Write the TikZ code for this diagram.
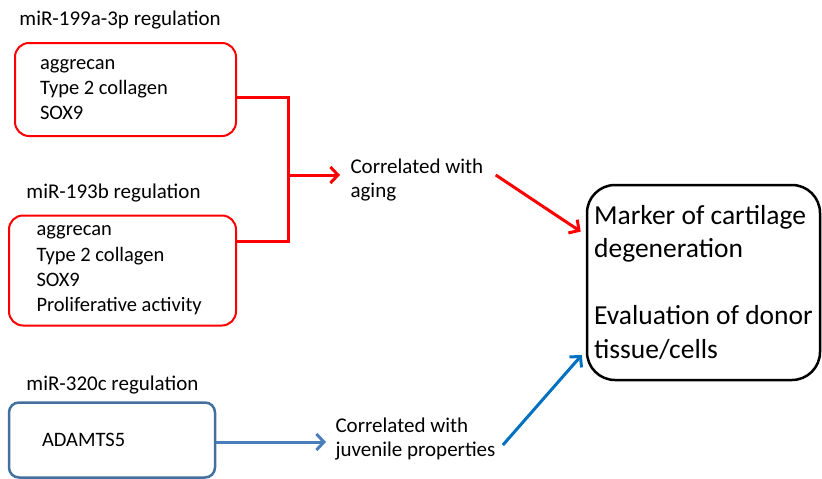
\documentclass[tikz,border=0pt]{standalone}
\usepackage{fontspec}
\setmainfont{Carlito}
\usetikzlibrary{arrows.meta}
\definecolor{boxblue}{HTML}{41719C}
\definecolor{lineblue}{HTML}{4A7EBB}
\definecolor{arrowblue}{HTML}{0070C0}

\begin{document}
\begin{tikzpicture}[x = 1pt, y = -1pt, line width = 3pt,
                        label/.style = {anchor = west, inner sep = 2pt, align = flush left,
                                        font = \fontsize{21}{24}\selectfont},
                        redbox/.style = {draw = red, line width = 2pt, rounded corners = 14pt,
                                         align = flush left, font = \fontsize{20.5}{25.3}\selectfont},
                        bluebox/.style = {draw = boxblue, line width = 2.5pt, rounded corners = 10pt,
                                          align = flush left, font = \fontsize{20.5}{25.3}\selectfont},
                        bigbox/.style = {draw, line width = 2.5pt, rounded corners = 28pt,
                                         align = left, font = \fontsize{27.5}{33.5}\selectfont},
                        tip/.style = {-{Straight Barb[length = 7.5pt, width = 16pt, line width = 3pt]}}]
      \useasboundingbox (0, 0) rectangle (822, 479);
      \node [label] (t1) at (16, 20){miR-199a-3p regulation};
      \node [label] (t2) at (23, 193){miR-193b regulation};
      \node [label] (t3) at (23, 385){miR-320c regulation};
      \node [redbox, minimum height = 93pt, inner xsep = 25pt, text width = 171pt] (b1) at (125.5, 89.5)
            {aggrecan\\Type 2 collagen\\SOX9};
      \node [redbox, minimum height = 110pt, inner xsep = 27.5pt, text width = 172pt] (b2) at (122.5, 270.5)
            {aggrecan\\Type 2 collagen\\SOX9\\Proliferative activity};
      \node [bluebox, minimum height = 75pt, inner xsep = 33pt, text width = 140pt] (b3) at (112, 440){ADAMTS5};
      \node [label] (c1) at (347, 180){Correlated with\\aging};
      \node [label] (c2) at (332, 439){Correlated with\\juvenile properties};
      \node [bigbox, minimum width = 233pt, minimum height = 195pt] (m) at (703.5, 282.5)
            {Marker of cartilage\\degeneration\\[33.5pt]Evaluation of donor\\tissue/cells};
      \coordinate (j1) at (288, 97);
      \coordinate (j2) at (288, 241);
      \coordinate (jm) at (288, 175);
      \draw [red] (b1.east |- j1) -- (j1) -- (j2) -- (b2.east |- j2);
      \draw [red, tip, shorten > = 7pt] (jm) -- (c1.west |- jm);
      \draw [red, tip, shorten > = 6pt] ([shift = {(9, -5)}]c1.east) -- (m.158);
      \draw [lineblue, tip, shorten > = 6pt] (b3.east |- 0, 442) -- (c2.west |- 0, 442);
      \draw [arrowblue, tip, shorten > = 6pt] ([shift = {(4, 6)}]c2.east) -- (m.210);
    \end{tikzpicture}
\end{document}
